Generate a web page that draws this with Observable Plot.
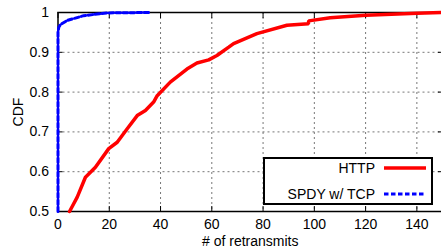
<!DOCTYPE html>
<html>
<head>
<meta charset="utf-8">
<script src="https://cdn.jsdelivr.net/npm/d3@7"></script>
<script src="https://cdn.jsdelivr.net/npm/@observablehq/plot@0.6"></script>
<style>
  html, body { margin: 0; padding: 0; background: #fff; overflow: hidden; }
  #wrap { position: relative; width: 441px; height: 249px; font-family: "Liberation Sans", Arial, sans-serif; }
  #legend { position: absolute; left: 263px; top: 157px; width: 166px; height: 44px; border: 2px solid #000; background: #fff; font-size: 14px; font-family: "Liberation Sans", Arial, sans-serif; }
  .row { position: absolute; height: 18px; display: flex; align-items: center; }
  .row span { margin-right: 9px; }
</style>
</head>
<body>
<div id="wrap"></div>
<script>
const httpX = [4.5, 7.5, 10.7, 14.6, 19.8, 23.1, 27, 30.9, 34.1, 37.3, 38.7, 43.8, 50.3, 54.2, 58.8, 62, 66.6, 68.5, 77.6, 89.3, 97.7, 97.8, 106.2, 120.1, 140, 150];
const httpY = [0.5, 0.536, 0.586, 0.611, 0.658, 0.674, 0.708, 0.741, 0.754, 0.775, 0.791, 0.825, 0.858, 0.873, 0.881, 0.892, 0.913, 0.922, 0.947, 0.968, 0.972, 0.979, 0.987, 0.993, 0.998, 1.0];
const spdyX = [0, 0, 0.3, 1, 3.6, 10, 19.2, 35.4];
const spdyY = [0.5, 0.95, 0.963, 0.97, 0.98, 0.992, 0.999, 1.0];
const xTicks = [0, 20, 40, 60, 80, 100, 120, 140];
const yTicks = [0.5, 0.6, 0.7, 0.8, 0.9, 1];
const seriesNames = ["HTTP", "SPDY w/ TCP"];
const seriesColors = ["#ff0000", "#0000ff"];

const http = httpX.map((x, i) => ({x, y: httpY[i]}));
const spdy = spdyX.map((x, i) => ({x, y: spdyY[i]}));

const chart = Plot.plot({
  width: 441,
  height: 249,
  marginLeft: 57.5,
  marginRight: -1,
  marginTop: 12,
  marginBottom: 38,
  style: {fontFamily: "'Liberation Sans', Arial, sans-serif", fontSize: "14px", color: "#000", background: "#fff", overflow: "visible"},
  x: {domain: [0, 150]},
  y: {domain: [0.5, 1]},
  marks: [
    Plot.gridX(xTicks.filter(d => d > 0), {stroke: "#777", strokeOpacity: 1, strokeDasharray: "2,3"}),
    Plot.gridY(yTicks.filter(d => d > 0.5 && d < 1), {stroke: "#777", strokeOpacity: 1, strokeDasharray: "2,3"}),
    Plot.frame({stroke: "#000", strokeWidth: 1.5}),
    Plot.axisX(xTicks, {anchor: "bottom", tickSize: 0, tickPadding: 8, label: "# of retransmits", labelArrow: "none", labelAnchor: "center", labelOffset: 34, fontSize: 14}),
    Plot.axisX(xTicks, {anchor: "bottom", tickSize: -5, text: null, label: null}),
    Plot.axisX(xTicks, {anchor: "top", tickSize: -5, text: null, label: null}),
    Plot.axisY(yTicks, {anchor: "left", tickSize: 0, tickPadding: 9, tickFormat: d => String(d), label: "CDF", labelArrow: "none", labelAnchor: "center", labelOffset: 45, fontSize: 14}),
    Plot.axisY(yTicks, {anchor: "left", tickSize: -5, text: null, label: null}),
    Plot.axisY(yTicks, {anchor: "right", tickSize: -5, text: null, label: null}),
    Plot.line(http, {x: "x", y: "y", stroke: seriesColors[0], strokeWidth: 3.5, strokeLinejoin: "miter"}),
    Plot.line(spdy, {x: "x", y: "y", stroke: seriesColors[1], strokeWidth: 3, strokeDasharray: "4.5,2.5"})
  ]
});
const wrap = document.getElementById("wrap");
wrap.appendChild(chart);

const legend = document.createElement("div");
legend.id = "legend";
seriesNames.forEach((name, i) => {
  const row = document.createElement("div");
  row.className = "row";
  row.style.top = (i === 0 ? 0 : 26) + "px";
  row.style.right = "5px";
  const dash = i === 0 ? "" : 'stroke-dasharray="4.5,2.5"';
  row.innerHTML = `<span>${name}</span><svg width="42" height="6"><line x1="0" x2="42" y1="3" y2="3" stroke="${seriesColors[i]}" stroke-width="${i === 0 ? 3.5 : 3}" ${dash}/></svg>`;
  legend.appendChild(row);
});
wrap.appendChild(legend);
</script>
</body>
</html>
